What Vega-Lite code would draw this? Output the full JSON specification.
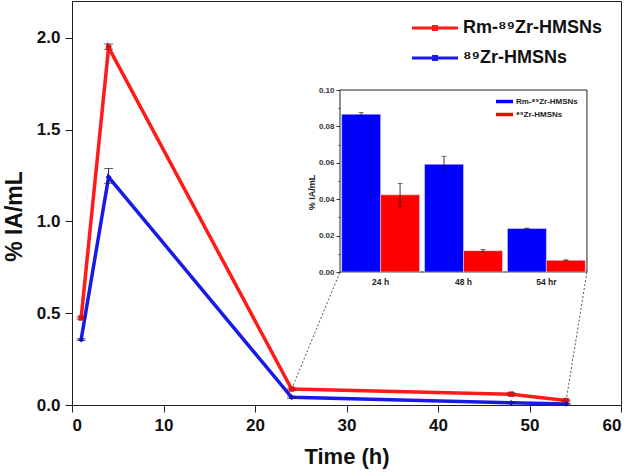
{
  "$schema": "https://vega.github.io/schema/vega-lite/v6.json",
  "width": 549,
  "height": 404,
  "autosize": {"type": "none"},
  "padding": {"left": 72, "top": 1, "right": 10, "bottom": 71},
  "background": "white",
  "config": {
    "view": {"stroke": "#222", "strokeWidth": 1},
    "font": "Liberation Sans",
    "axis": {"labelFont": "Liberation Sans", "titleFont": "Liberation Sans", "grid": false},
    "legend": {"labelFont": "Liberation Sans"}
  },
  "layer": [
    {
      "encoding": {
        "x": {
          "field": "t", "type": "quantitative",
          "scale": {"domain": [0, 60], "nice": false},
          "axis": {
            "orient": "bottom", "values": [0, 10, 20, 30, 40, 50, 60], "format": "d",
            "title": "Time (h)", "titleFontSize": 22, "titleFontWeight": "bold", "titleColor": "#111", "titlePadding": 13,
            "labelFontSize": 17, "labelFontWeight": "bold", "labelColor": "#111", "labelPadding": 5,
            "tickSize": 7, "tickColor": "#222", "domainColor": "#222"
          }
        },
        "y": {
          "field": "v", "type": "quantitative",
          "scale": {"domain": [0, 2.2], "nice": false},
          "axis": {
            "orient": "left", "values": [0, 0.5, 1, 1.5, 2], "format": ".1f",
            "title": "% IA/mL", "titleFontSize": 23, "titleFontWeight": "bold", "titleColor": "#111", "titlePadding": 10, "titleY": 215,
            "labelFontSize": 17, "labelFontWeight": "bold", "labelColor": "#111", "labelPadding": 5,
            "tickSize": 7, "tickColor": "#222", "domainColor": "#222"
          }
        }
      },
      "layer": [
        {
          "data": {
            "values": [
              {"t": 24, "v": 0.087, "t2": 29.29, "v2": 0.7243},
              {"t": 54, "v": 0.024, "t2": 56.28, "v2": 0.7243}
            ]
          },
          "mark": {"type": "rule", "color": "#555", "strokeWidth": 1, "strokeDash": [2, 2]},
          "encoding": {"x2": {"field": "t2"}, "y2": {"field": "v2"}}
        },
        {
          "data": {"values": [{"t": 29.29, "t2": 56.28, "v": 0.7243, "v2": 1.7153}]},
          "mark": {"type": "rect", "fill": "white", "stroke": "#222", "strokeWidth": 1},
          "encoding": {"x2": {"field": "t2"}, "y2": {"field": "v2"}}
        },
        {
          "data": {
            "values": [
              {"t": 1, "v": 0.474, "lo": 0.468, "hi": 0.48, "series": "Rm-⁸⁹Zr-HMSNs"},
              {"t": 4, "v": 1.947, "lo": 1.937, "hi": 1.966, "series": "Rm-⁸⁹Zr-HMSNs"},
              {"t": 24, "v": 0.087, "lo": 0.082, "hi": 0.092, "series": "Rm-⁸⁹Zr-HMSNs"},
              {"t": 48, "v": 0.059, "lo": 0.052, "hi": 0.066, "series": "Rm-⁸⁹Zr-HMSNs"},
              {"t": 54, "v": 0.024, "lo": 0.021, "hi": 0.027, "series": "Rm-⁸⁹Zr-HMSNs"},
              {"t": 1, "v": 0.356, "lo": 0.351, "hi": 0.361, "series": "⁸⁹Zr-HMSNs"},
              {"t": 4, "v": 1.241, "lo": 1.207, "hi": 1.288, "series": "⁸⁹Zr-HMSNs"},
              {"t": 24, "v": 0.042, "lo": 0.036, "hi": 0.048, "series": "⁸⁹Zr-HMSNs"},
              {"t": 48, "v": 0.012, "lo": 0.009, "hi": 0.015, "series": "⁸⁹Zr-HMSNs"},
              {"t": 54, "v": 0.006, "lo": 0.004, "hi": 0.008, "series": "⁸⁹Zr-HMSNs"}
            ]
          },
          "layer": [
            {
              "mark": {"type": "line", "strokeWidth": 3.5},
              "encoding": {
                "color": {
                  "field": "series", "type": "nominal",
                  "scale": {"domain": ["Rm-⁸⁹Zr-HMSNs", "⁸⁹Zr-HMSNs"], "range": ["#ff1a1a", "#1a1ae6"]},
                  "legend": {
                    "orient": "none", "legendX": 353, "legendY": 17, "title": null,
                    "symbolType": "M-2.3,-0.15H2.3V0.15H-2.3Z M-0.3,-0.3H0.3V0.3H-0.3Z",
                    "symbolSize": 400, "symbolStrokeWidth": 0,
                    "labelFontSize": 18, "labelFontWeight": "bold", "labelColor": "#111", "labelOffset": 18,
                    "rowPadding": 11, "padding": 0,
                    "encode": {"symbols": {"update": {"fill": {"scale": "color", "field": "value"}, "strokeWidth": {"value": 0}}}}
                  }
                }
              }
            },
            {
              "mark": {"type": "rule", "color": "#222", "strokeWidth": 1},
              "encoding": {"y": {"field": "lo", "type": "quantitative"}, "y2": {"field": "hi"}}
            },
            {
              "mark": {"type": "tick", "orient": "horizontal", "color": "#222", "size": 9, "thickness": 1},
              "encoding": {"y": {"field": "hi", "type": "quantitative"}}
            },
            {
              "mark": {"type": "tick", "orient": "horizontal", "color": "#222", "size": 9, "thickness": 1},
              "encoding": {"y": {"field": "lo", "type": "quantitative"}}
            },
            {
              "transform": [{"filter": "datum.series == 'Rm-⁸⁹Zr-HMSNs'"}],
              "mark": {"type": "point", "filled": true, "size": 30, "opacity": 1, "shape": "square", "color": "#e01010"}
            },
            {
              "transform": [{"filter": "datum.series == '⁸⁹Zr-HMSNs'"}],
              "mark": {"type": "point", "filled": true, "size": 34, "opacity": 1, "shape": "diamond", "color": "#1010d0"}
            }
          ]
        }
      ]
    },
    {
      "data": {
        "values": [
          {"time": "24 h", "grp": "Rm-⁸⁹Zr-HMSNs", "v": 0.0867, "lo": 0.0862, "hi": 0.0876},
          {"time": "24 h", "grp": "⁸⁹Zr-HMSNs", "v": 0.0424, "lo": 0.0361, "hi": 0.0487},
          {"time": "48 h", "grp": "Rm-⁸⁹Zr-HMSNs", "v": 0.0592, "lo": 0.0555, "hi": 0.0636},
          {"time": "48 h", "grp": "⁸⁹Zr-HMSNs", "v": 0.0117, "lo": 0.011, "hi": 0.0124},
          {"time": "54 hr", "grp": "Rm-⁸⁹Zr-HMSNs", "v": 0.0239, "lo": 0.0237, "hi": 0.0241},
          {"time": "54 hr", "grp": "⁸⁹Zr-HMSNs", "v": 0.0064, "lo": 0.0061, "hi": 0.0067}
        ]
      },
      "encoding": {
        "x": {
          "field": "time", "type": "nominal", "sort": ["24 h", "48 h", "54 hr"],
          "scale": {"range": [268, 515], "paddingInner": 0.06, "paddingOuter": 0.02},
          "axis": {
            "orient": "bottom", "offset": -133, "title": null, "domain": false, "ticks": false,
            "labelAngle": 0, "labelFontSize": 8.5, "labelFontWeight": "bold", "labelColor": "#222", "labelPadding": 5
          }
        },
        "xOffset": {"field": "grp", "type": "nominal", "sort": ["Rm-⁸⁹Zr-HMSNs", "⁸⁹Zr-HMSNs"]}
      },
      "layer": [
        {
          "mark": {"type": "bar", "stroke": "#e8e8ff", "strokeWidth": 0.5},
          "encoding": {
            "y": {
              "field": "v", "type": "quantitative",
              "scale": {"domain": [0, 0.1], "range": [271, 89], "nice": false},
              "axis": {
                "orient": "left", "offset": -268, "domain": false,
                "values": [0, 0.01, 0.02, 0.03, 0.04, 0.05, 0.06, 0.07, 0.08, 0.09, 0.1],
                "labelExpr": "round(datum.value*100)%2==0 ? format(datum.value, '.2f') : ''",
                "tickSize": {"condition": {"test": "round(datum.value*100)%2==1", "value": 2}, "value": 4},
                "tickColor": "#333",
                "labelFontSize": 8, "labelFontWeight": "bold", "labelColor": "#333", "labelPadding": 2,
                "title": "% IA/mL", "titleFontSize": 9, "titleFontWeight": "bold", "titleColor": "#222",
                "titleX": -24, "titleY": 191
              }
            },
            "fill": {
              "field": "grp", "type": "nominal",
              "scale": {"range": ["#0000ff", "#ff0000"]},
              "legend": {
                "orient": "none", "legendX": 427.5, "legendY": 95.5, "title": null,
                "symbolType": "M-1.7,-0.35H1.7V0.35H-1.7Z", "symbolSize": 100, "symbolStrokeWidth": 0,
                "labelFontSize": 8, "labelFontWeight": "bold", "labelColor": "#222", "labelOffset": 6.5,
                "rowPadding": 4, "padding": 0
              }
            }
          }
        },
        {
          "mark": {"type": "rule", "color": "#111", "strokeWidth": 0.8},
          "encoding": {"y": {"field": "lo", "type": "quantitative"}, "y2": {"field": "hi"}}
        },
        {
          "mark": {"type": "tick", "orient": "horizontal", "color": "#111", "size": 5, "thickness": 0.8},
          "encoding": {"y": {"field": "hi", "type": "quantitative"}}
        },
        {
          "mark": {"type": "tick", "orient": "horizontal", "color": "#111", "size": 5, "thickness": 0.8},
          "encoding": {"y": {"field": "lo", "type": "quantitative"}}
        }
      ]
    }
  ],
  "resolve": {"scale": {"x": "independent", "y": "independent"}}
}
